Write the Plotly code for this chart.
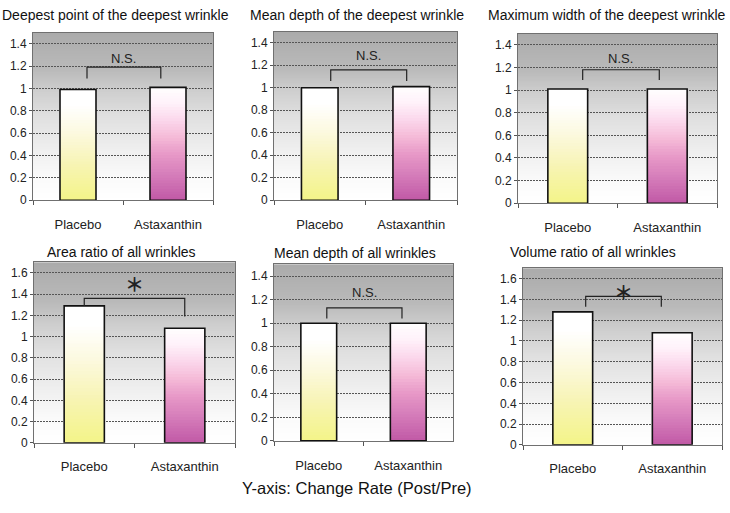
import base64
import struct
import zlib

import plotly.graph_objects as go

categories = ["Placebo", "Astaxanthin"]
titles = [
    "Deepest point of the deepest wrinkle",
    "Mean depth of the deepest wrinkle",
    "Maximum width of the deepest wrinkle",
    "Area ratio of all wrinkles",
    "Mean depth of all wrinkles",
    "Volume ratio of all wrinkles",
]
placebo = [0.99, 1.00, 1.01, 1.29, 1.00, 1.28]
astaxanthin = [1.01, 1.01, 1.01, 1.08, 1.00, 1.08]
marks = ["N.S.", "N.S.", "N.S.", "＊", "N.S.", "＊"]
bracket_top = [1.19, 1.16, 1.18, 1.36, 1.13, 1.43]
bracket_left_end = [1.09, 1.06, 1.09, 1.29, 1.04, 1.33]
bracket_right_end = [1.09, 1.06, 1.09, 1.19, 1.04, 1.33]
mark_y = [1.27, 1.29, 1.28, 1.50, 1.26, 1.48]
y_max = [1.5, 1.5, 1.5, 1.7, 1.5, 1.7]
caption = "Y-axis: Change Rate (Post/Pre)"

W, H = 730, 513
# plot area boxes in pixels: left, right, top, bottom
boxes = [
    (33, 213, 33, 203),
    (274, 457, 32, 203),
    (518, 717, 34, 206),
    (34, 235, 266, 449),
    (274, 453, 268, 447),
    (523, 722, 272, 451),
]
# title anchor point (px) and anchor side
title_pos = [(115, 15, "center"), (357, 15, "center"), (728, 15, "right"),
             (121, 255, "center"), (355, 256, "center"), (593, 255, "center")]
bracket_x = [(0.10, 0.92), (0.12, 0.95), (0.15, 0.92), (0.0, 1.0), (0.09, 0.93), (0.13, 0.89)]

FONT = "Liberation Sans"

bg_stops = [(0, "#ffffff"), (0.12, "#fbfbfb"), (0.3, "#efefef"), (0.5, "#e0e0e0"),
            (0.65, "#cfcfcf"), (0.78, "#bababa"), (1.0, "#ababab")]
yellow_stops = [(0, "#f4f48a"), (0.3, "#f7f4b2"), (0.6, "#fcf9e0"), (0.85, "#ffffff"), (1, "#ffffff")]
pink_stops = [(0, "#c25ba7"), (0.2, "#d47bb9"), (0.4, "#e89ac8"), (0.55, "#f5bbd8"),
              (0.7, "#fbd8ec"), (0.85, "#fff2fa"), (1, "#ffffff")]


def hex2rgb(h):
    h = h.lstrip("#")
    return tuple(int(h[i:i + 2], 16) for i in (0, 2, 4))


def interp(stops, t):
    for (t0, c0), (t1, c1) in zip(stops[:-1], stops[1:]):
        if t <= t1:
            a, b = hex2rgb(c0), hex2rgb(c1)
            f = 0 if t1 == t0 else (t - t0) / (t1 - t0)
            return tuple(round(a[i] + (b[i] - a[i]) * f) for i in range(3))
    return hex2rgb(stops[-1][1])


def png_uri(stops, h=200, w=4):
    raw = b""
    for r in range(h):
        t = 1 - r / (h - 1)
        raw += b"\x00" + bytes(interp(stops, t)) * w

    def chunk(tag, data):
        return struct.pack(">I", len(data)) + tag + data + struct.pack(">I", zlib.crc32(tag + data) & 0xffffffff)

    png = (b"\x89PNG\r\n\x1a\n" + chunk(b"IHDR", struct.pack(">IIBBBBB", w, h, 8, 2, 0, 0, 0))
           + chunk(b"IDAT", zlib.compress(raw)) + chunk(b"IEND", b""))
    return "data:image/png;base64," + base64.b64encode(png).decode()


bg_uri = png_uri(bg_stops)
N = 40

fig = go.Figure()
layout = {}
for i in range(6):
    l, r, t, b = boxes[i]
    ax = "" if i == 0 else str(i + 1)
    xa, ya = "x" + ax, "y" + ax
    layout["xaxis" + ax] = dict(
        domain=[l / W, r / W], anchor=ya, type="category", categoryorder="array",
        categoryarray=categories, range=[-0.5, 1.5], tickson="boundaries", ticks="outside",
        ticklen=4, tickcolor="#555", showline=True, linecolor="#707070", mirror=True,
        showgrid=False, tickfont=dict(family=FONT, size=13, color="#222"),
        ticklabelstandoff=12, fixedrange=True,
    )
    layout["yaxis" + ax] = dict(
        domain=[1 - b / H, 1 - t / H], anchor=xa, range=[0, y_max[i]], dtick=0.2,
        ticks="outside", ticklen=3, tickcolor="#555", showline=True, linecolor="#707070",
        mirror=True, showgrid=True, gridcolor="#555", griddash="2px,1px", gridwidth=1,
        zeroline=False, tickfont=dict(family=FONT, size=12, color="#222"),
        tickformat="~g", fixedrange=True,
    )
    # gradient filled bars: stacked layers from bottom, lighter colours above
    for cat, val, stops in ((categories[0], placebo[i], yellow_stops),
                            (categories[1], astaxanthin[i], pink_stops)):
        bases = [val * k / N for k in range(N)]
        fig.add_trace(go.Bar(
            x=[cat] * N, base=bases, y=[val - bb for bb in bases], width=0.4,
            marker=dict(color=["rgb(%d,%d,%d)" % interp(stops, k / N) for k in range(N)],
                        line=dict(width=0)),
            xaxis=xa, yaxis=ya, hoverinfo="skip", showlegend=False,
        ))
    fig.add_trace(go.Bar(
        x=categories, y=[placebo[i], astaxanthin[i]], width=0.4,
        marker=dict(color="rgba(0,0,0,0)", line=dict(color="#111", width=1.6)),
        xaxis=xa, yaxis=ya, showlegend=False,
    ))
    fig.add_layout_image(dict(
        source=bg_uri, xref=xa + " domain", yref=ya + " domain", x=0, y=1,
        sizex=1, sizey=1, sizing="stretch", xanchor="left", yanchor="top", layer="below",
    ))
    x0, x1 = bracket_x[i]
    fig.add_shape(
        type="path", xref=xa, yref=ya,
        path="M %g,%g L %g,%g L %g,%g L %g,%g" % (
            x0, bracket_left_end[i], x0, bracket_top[i], x1, bracket_top[i], x1, bracket_right_end[i]),
        line=dict(color="#222", width=1.2),
    )
    star = marks[i] != "N.S."
    fig.add_annotation(
        x=(x0 + x1) / 2, y=mark_y[i], xref=xa, yref=ya, text=marks[i], showarrow=False,
        xanchor="center", yanchor="middle",
        font=dict(family="Noto Sans CJK JP" if star else FONT, size=19 if star else 13,
                  color="#222", weight="bold" if star else "normal"),
    )
    tx, ty, anchor = title_pos[i]
    fig.add_annotation(
        x=tx / W, y=1 - ty / H, xref="paper", yref="paper", text=titles[i],
        showarrow=False, xanchor=anchor, yanchor="middle",
        font=dict(family=FONT, size=14, color="#111"),
    )

fig.add_annotation(
    x=357 / W, y=1 - 495 / H, xref="paper", yref="paper", text=caption, showarrow=False,
    xanchor="center", yanchor="middle", font=dict(family=FONT, size=16.5, color="#111"),
)

fig.update_layout(
    width=W, height=H, margin=dict(l=0, r=0, t=0, b=0), barmode="overlay",
    paper_bgcolor="white", plot_bgcolor="rgba(0,0,0,0)", showlegend=False,
    **layout,
)
fig.write_html(
    "out.html", config={"displayModeBar": False},
    post_script="document.body.style.margin='0';document.body.style.overflow='hidden';",
)
